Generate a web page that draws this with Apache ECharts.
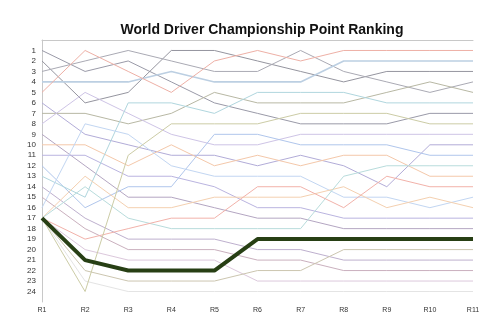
<!DOCTYPE html>
<html>
<head>
<meta charset="utf-8">
<script src="https://cdn.jsdelivr.net/npm/echarts@6/dist/echarts.min.js"></script>
<style>
  html, body { margin: 0; padding: 0; background: #ffffff; }
  #chart { width: 500px; height: 333px; }
</style>
</head>
<body>
<div id="chart"></div>
<script>
// Rounds on the x axis
const rounds = ['R1', 'R2', 'R3', 'R4', 'R5', 'R6', 'R7', 'R8', 'R9', 'R10', 'R11'];
// Rank labels shown on the y axis
const rankLabels = [1, 2, 3, 4, 5, 6, 7, 8, 9, 10, 11, 12, 13, 14, 15, 16, 17, 18, 19, 20, 21, 22, 23, 24];

// Championship position of each driver after every round
const driverA = [1, 3, 2, 4, 6, 7, 8, 8, 8, 7, 7];
const driverB = [2, 6, 5, 1, 1, 2, 3, 4, 3, 3, 3];
const driverC = [3, 2, 1, 2, 3, 3, 1, 3, 4, 5, 4];
const driverD = [4, 4, 4, 3, 4, 4, 4, 2, 2, 2, 2];
const driverE = [5, 1, 3, 5, 2, 1, 2, 1, 1, 1, 1];
const driverF = [6, 9, 10, 11, 11, 12, 11, 12, 14, 10, 10];
const driverG = [7, 7, 8, 7, 5, 6, 6, 6, 5, 4, 5];
const driverH = [8, 5, 7, 9, 10, 10, 9, 9, 9, 9, 9];
const driverI = [9, 12, 15, 15, 16, 17, 17, 18, 18, 18, 18];
const driverJ = [10, 10, 12, 10, 12, 11, 12, 11, 11, 13, 13];
const driverK = [11, 11, 13, 13, 14, 16, 16, 17, 17, 17, 17];
const driverL = [12, 16, 14, 14, 9, 9, 10, 10, 10, 11, 11];
const driverM = [13, 15, 6, 6, 7, 5, 5, 5, 6, 6, 6];
const driverN = [14, 17, 19, 19, 19, 20, 20, 21, 21, 21, 21];
const driverO = [15, 18, 20, 20, 20, 21, 21, 22, 22, 22, 22];
const driverP = [16, 8, 9, 12, 13, 13, 13, 15, 15, 16, 15];
const driverQ = [17, 13, 16, 16, 15, 15, 15, 14, 16, 15, 16];
const driverR = [17, 14, 17, 18, 18, 18, 18, 13, 12, 12, 12];
const driverS = [17, 19, 18, 17, 17, 14, 14, 16, 13, 14, 14];
const driverT = [17, 20, 21, 21, 21, 23, 23, 23, 23, 23, 23];
const driverU = [17, 22, 23, 23, 23, 22, 22, 20, 20, 20, 20];
const driverV = [17, 23, 24, 24, 24, 24, 24, 24, 24, 24, 24];
const driverW = [17, 24, 11, 8, 8, 8, 7, 7, 7, 8, 8];
const highlighted = [17, 21, 22, 22, 22, 19, 19, 19, 19, 19, 19];

const thinLines = [
  { data: driverA, color: '#9a9aa8' },
  { data: driverB, color: '#95959f' },
  { data: driverC, color: '#aaaab4' },
  { data: driverD, color: '#bccfe2', width: 1.6 },
  { data: driverE, color: '#eeb0a6' },
  { data: driverF, color: '#b2acd8' },
  { data: driverG, color: '#b8b8a4' },
  { data: driverH, color: '#cec4e6' },
  { data: driverI, color: '#b4a6c2' },
  { data: driverJ, color: '#f4c8aa' },
  { data: driverK, color: '#bab4e0' },
  { data: driverL, color: '#b0c6ec' },
  { data: driverM, color: '#b0d6de' },
  { data: driverN, color: '#beb0ce' },
  { data: driverO, color: '#cab0be' },
  { data: driverP, color: '#c2d6f2' },
  { data: driverQ, color: '#f4d0b0' },
  { data: driverR, color: '#b8dcdc' },
  { data: driverS, color: '#f2b2aa' },
  { data: driverT, color: '#dcc8dc' },
  { data: driverU, color: '#ccc6b0' },
  { data: driverV, color: '#e4e4e4' },
  { data: driverW, color: '#cccca6' }
];

const series = thinLines.map(function (l) {
  return {
    type: 'line',
    data: l.data,
    symbol: 'none',
    silent: true,
    lineStyle: { color: l.color, width: l.width || 1 },
    z: 2
  };
});
series.push({
  type: 'line',
  data: highlighted,
  symbol: 'none',
  silent: true,
  lineStyle: { color: '#273f14', width: 4 },
  z: 5
});

const chart = echarts.init(document.getElementById('chart'), null, { renderer: 'canvas' });
chart.setOption({
  animation: false,
  backgroundColor: '#ffffff',
  title: {
    text: 'World Driver Championship Point Ranking',
    left: 257,
    top: 18,
    textAlign: 'center',
    textStyle: {
      fontFamily: 'Liberation Sans, Arial, sans-serif',
      fontSize: 14,
      fontWeight: 'bold',
      color: '#111111'
    }
  },
  grid: { left: 42, right: 27, top: 40, bottom: 31, containLabel: false },
  xAxis: {
    type: 'category',
    data: rounds,
    boundaryGap: false,
    axisLine: { lineStyle: { color: '#c8c8c8', width: 1 } },
    axisTick: { show: false },
    axisLabel: {
      margin: 5,
      fontSize: 7,
      color: '#333333',
      fontFamily: 'Liberation Sans, Arial, sans-serif'
    },
    splitLine: { show: false }
  },
  yAxis: {
    type: 'value',
    inverse: true,
    min: 0,
    max: 25,
    interval: 1,
    axisLine: { show: true, lineStyle: { color: '#c8c8c8', width: 1 } },
    axisTick: { show: false },
    axisLabel: {
      margin: 6,
      fontSize: 8,
      color: '#333333',
      fontFamily: 'Liberation Sans, Arial, sans-serif',
      formatter: function (v) {
        return rankLabels.indexOf(v) >= 0 ? String(v) : '';
      }
    },
    splitLine: { show: false }
  },
  series: series
});
</script>
</body>
</html>
